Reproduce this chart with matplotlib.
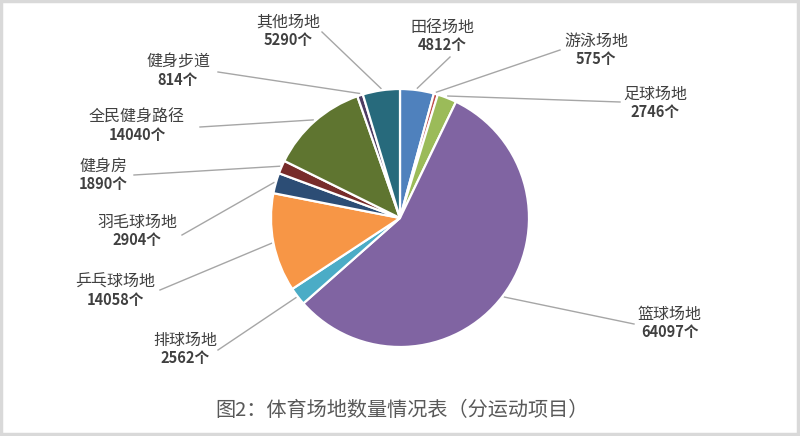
import numpy as np
import matplotlib.pyplot as plt

plt.rcParams['font.family'] = ['Noto Sans CJK SC', 'DejaVu Sans']

names = ['田径场地', '游泳场地', '足球场地', '篮球场地', '排球场地', '乒乓球场地',
         '羽毛球场地', '健身房', '全民健身路径', '健身步道', '其他场地']
counts = [4812, 575, 2746, 64097, 2562, 14058, 2904, 1890, 14040, 814, 5290]
colors = ['#4F81BD', '#C0504D', '#9BBB59', '#8064A2', '#4BACC6', '#F79646',
          '#2C4D75', '#772C2A', '#5F7530', '#4D3B62', '#276A7C']

# label text centres (pixels, y from top) and leader end points at the label
label_pos = [(442, 36), (596, 50), (655, 103), (670, 323), (185, 349), (115, 291),
             (137, 231), (103, 175), (137, 126), (178, 71), (288, 31)]
leader_end = [(450, 57), (560, 50), (620, 102), (634, 324), (218, 350), (160, 290),
              (182, 235), (134, 175), (200, 127), (218, 72), (322, 32)]

W, H = 800, 436
cx, cy, r = 400, 218, 129

fig = plt.figure(figsize=(8, 4.36), dpi=100)
ax = fig.add_axes([0, 0, 1, 1])

wedges, _ = ax.pie(counts, colors=colors, startangle=90, counterclock=False,
                   center=(cx, H - cy), radius=r,
                   wedgeprops=dict(edgecolor='white', linewidth=1.6))
# pie() resets the limits, so set them afterwards
ax.set_xlim(0, W)
ax.set_ylim(0, H)
ax.set_aspect('equal')
ax.axis('off')

for w, name, c, (tx, ty), (ex, ey) in zip(wedges, names, counts, label_pos, leader_end):
    ang = np.deg2rad((w.theta1 + w.theta2) / 2)
    px = cx + (r + 2) * np.cos(ang)
    py = (H - cy) + (r + 2) * np.sin(ang)
    ax.plot([px, ex], [py, H - ey], color='#A6A6A6', lw=1.0, zorder=0)
    ax.text(tx, H - ty + 9, name, ha='center', va='center', fontsize=11.5, color='#404040')
    ax.text(tx, H - ty - 9, f'{c}个', ha='center', va='center', fontsize=10.5,
            color='#404040', fontweight='bold')

ax.text(402, H - 410, '图2：体育场地数量情况表（分运动项目）', ha='center', va='center',
        fontsize=14.5, color='#595959')

# light grey frame
ax.add_patch(plt.Rectangle((1, 2), W - 3, H - 3, fill=False, edgecolor='#D9D9D9', lw=2.5))

fig.savefig('out.png', dpi=100)
